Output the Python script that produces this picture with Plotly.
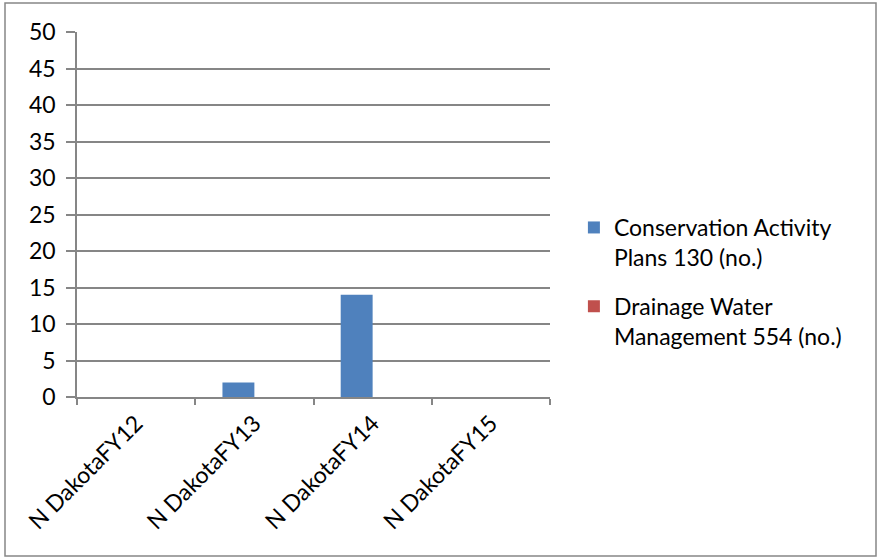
import plotly.graph_objects as go

categories = ["N DakotaFY12", "N DakotaFY13", "N DakotaFY14", "N DakotaFY15"]
conservation_plans = [0, 2, 14, 0]
drainage_mgmt = [0, 0, 0, 0]
series_names = ["Conservation Activity<br>Plans 130 (no.)", "Drainage Water<br>Management 554 (no.)"]

fig = go.Figure()
fig.add_trace(go.Bar(x=categories, y=conservation_plans, name=series_names[0], legendgroup="a",
                     marker=dict(color="#4F81BD", line=dict(width=0))))
fig.add_trace(go.Bar(x=categories, y=drainage_mgmt, name=series_names[1], legendgroup="b",
                     marker=dict(color="#C0504D", line=dict(width=0))))

grid = "#868686"
fig.update_layout(
    width=882, height=560,
    margin=dict(l=77, r=332, t=32, b=163),
    paper_bgcolor="white", plot_bgcolor="white",
    font=dict(family="Lato, Calibri, sans-serif", size=23, color="black"),
    barmode="group", bargap=0.46, bargroupgap=0,
    showlegend=True,
    legend=dict(x=1 + 24 / 475, y=(397 - 282) / 365, xanchor="left", yanchor="middle",
                font=dict(size=23), traceorder="grouped", tracegroupgap=16,
                itemsizing="constant", valign="top"),
    xaxis=dict(tickangle=-45, showline=True, linecolor=grid, linewidth=1.5,
               ticks="outside", ticklen=6, tickcolor=grid, tickwidth=1.5,
               tickson="boundaries", showgrid=False, ticklabelstandoff=2),
    yaxis=dict(range=[0, 50], dtick=5, showline=True, linecolor=grid, linewidth=1.5,
               ticks="outside", ticklen=9, tickcolor=grid, tickwidth=1.5,
               gridcolor=grid, gridwidth=1.5, zeroline=False, ticklabelstandoff=6),
)

# outer chart border
fig.add_shape(type="rect", xref="paper", yref="paper",
              x0=-72/473, x1=799/473, y0=-(556-397)/365, y1=(397-3)/365,
              line=dict(color="#878787", width=1.5), fillcolor="rgba(0,0,0,0)")

fig.write_html("out.html", config={"displayModeBar": False},
               post_script="document.body.style.margin='0';")
